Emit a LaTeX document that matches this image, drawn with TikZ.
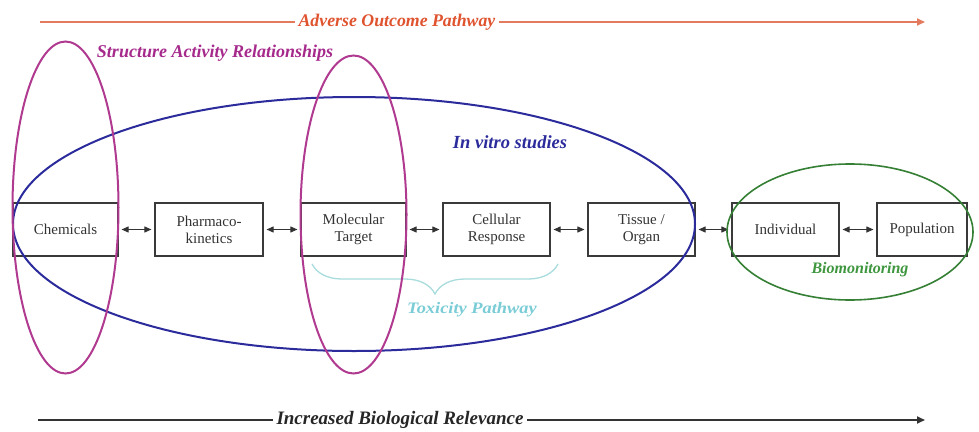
\documentclass[tikz,border=0pt]{standalone}
\usepackage{fontspec}
\setmainfont{Liberation Serif}
\usetikzlibrary{arrows.meta,decorations.pathreplacing}
\definecolor{aopred}{HTML}{E0532F}
\definecolor{aopline}{HTML}{E37A5E}
\definecolor{sarmag}{HTML}{A52A8C}
\definecolor{ellmag}{HTML}{B03A90}
\definecolor{vitroblue}{HTML}{2B2B9C}
\definecolor{biogreen}{HTML}{3E963E}
\definecolor{toxcyan}{HTML}{7ACCD6}
\definecolor{bracecyan}{HTML}{A9DCDD}
\definecolor{boxgray}{HTML}{3A3A3A}
\tikzset{
  stepbox/.style={draw=boxgray, line width=1.1pt, minimum height=53pt, align=center,
    font=\fontsize{15}{17}\selectfont, text=black!80, inner sep=2pt},
  biarrow/.style={{Triangle[length=7pt,width=6pt]}-{Triangle[length=7pt,width=6pt]}, line width=0.9pt, draw=black!80, shorten <=3pt, shorten >=3pt},
  titletext/.style={fill=white, inner sep=4pt},
}
\begin{document}
\begin{tikzpicture}[x=1pt,y=-1pt]
\useasboundingbox (0,0) rectangle (979,431);
% top arrow
\coordinate (aopS) at (40,22);
\coordinate (aopE) at (925,22);
\draw[aopline, line width=1.8pt, -{Triangle[length=8pt,width=7pt]}] (aopS) -- (aopE);
\node[titletext, text=aopred, font=\fontsize{17.8}{20}\selectfont\bfseries\itshape] (aop) at (397,22) {Adverse Outcome Pathway};
% bottom arrow
\coordinate (ibrS) at (38,420);
\coordinate (ibrE) at (925,420);
\draw[black!80, line width=1.8pt, -{Triangle[length=8pt,width=7pt]}] (ibrS) -- (ibrE);
\node[titletext, text=black!85, font=\fontsize{19}{22}\selectfont\bfseries\itshape] (ibr) at (400,420) {Increased Biological Relevance};
% labels
\node[text=sarmag, font=\fontsize{18}{20}\selectfont\bfseries\itshape] (sar) at (215,53) {Structure Activity Relationships};
\node[text=vitroblue, font=\fontsize{18.5}{22}\selectfont\bfseries\itshape] (vitro) at (510,142) {In vitro studies};
\node[text=toxcyan, font=\fontsize{16}{19}\selectfont\bfseries\itshape, xscale=1.15] (tox) at (472,310) {Toxicity Pathway};
\node[text=biogreen, font=\fontsize{16}{18}\selectfont\bfseries\itshape] (bio) at (860,270) {Biomonitoring};
% boxes
\node[stepbox, minimum width=105pt] (chem) at (65.5,229.5) {Chemicals};
\node[stepbox, minimum width=108pt] (pharm) at (209,229.5) {Pharmaco-\\kinetics};
\node[stepbox, minimum width=105pt] (mol) at (353.5,229.5) {Molecular\\Target};
\node[stepbox, minimum width=107pt] (cell) at (496.5,229.5) {Cellular\\Response};
\node[stepbox, minimum width=107pt] (tissue) at (641.5,229.5) {Tissue /\\Organ};
\node[stepbox, minimum width=107pt] (indiv) at (785.5,229.5) {Individual};
\node[stepbox, minimum width=90pt] (pop) at (922,229.5) {Population};
% connectors
\draw[biarrow] (chem) -- (pharm);
\draw[biarrow] (pharm) -- (mol);
\draw[biarrow] (mol) -- (cell);
\draw[biarrow] (cell) -- (tissue);
\draw[biarrow] (tissue) -- (indiv);
\draw[biarrow] (indiv) -- (pop);
% brace
\coordinate (brL) at (312,264);
\coordinate (brR) at (558,264);
\draw[bracecyan, line width=1.3pt, decorate, decoration={brace, mirror, amplitude=30pt}] (brL) -- (brR);
% ellipses
\draw[vitroblue, line width=2pt] (354,224) ellipse [x radius=341pt, y radius=127pt];
\draw[biogreen!85!black, line width=1.6pt] (850,232) ellipse [x radius=123pt, y radius=68pt];
\draw[ellmag, line width=2pt] (65.5,207.5) ellipse [x radius=53pt, y radius=166pt];
\draw[ellmag, line width=2pt] (353.5,214.5) ellipse [x radius=53pt, y radius=159pt];
\end{tikzpicture}
\end{document}
